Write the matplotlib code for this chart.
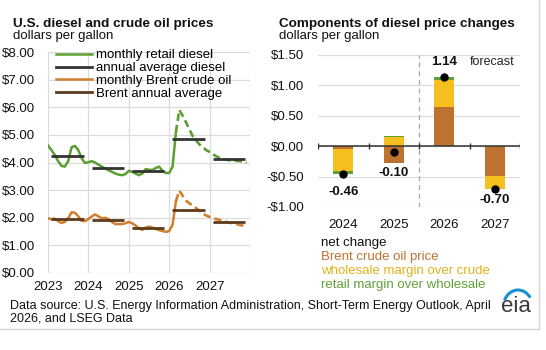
import numpy as np
import matplotlib.pyplot as plt
from matplotlib.lines import Line2D
from matplotlib.patches import Arc

plt.rcParams['font.family'] = ['Liberation Sans', 'DejaVu Sans']

# left panel: monthly prices, Jan 2023 - Dec 2027, dollars per gallon
years = [2023, 2024, 2025, 2026, 2027]
diesel_monthly = [
    4.62, 4.45, 4.28, 4.05, 3.88, 3.85, 4.05, 4.55, 4.60, 4.45, 4.15, 3.98,
    4.01, 4.05, 4.00, 3.92, 3.85, 3.78, 3.72, 3.66, 3.60, 3.56, 3.54, 3.58,
    3.70, 3.66, 3.60, 3.54, 3.60, 3.76, 3.74, 3.73, 3.80, 3.85, 3.70, 3.62,
    3.62, 3.85, 5.10, 5.90, 5.70, 5.45, 5.20, 4.95, 4.80, 4.65, 4.55, 4.45,
    4.38, 4.30, 4.22, 4.17, 4.12, 4.10, 4.08, 4.07, 4.06, 4.05, 4.03, 4.00,
]
brent_monthly = [
    1.98, 1.95, 1.97, 1.88, 1.81, 1.85, 1.98, 2.20, 2.18, 2.05, 1.88, 1.88,
    1.95, 2.05, 2.12, 2.05, 1.98, 2.00, 1.95, 1.85, 1.77, 1.77, 1.77, 1.80,
    1.85, 1.80, 1.72, 1.62, 1.56, 1.64, 1.68, 1.64, 1.60, 1.55, 1.52, 1.49,
    1.52, 1.75, 2.60, 2.98, 2.80, 2.62, 2.52, 2.44, 2.35, 2.25, 2.15, 2.08,
    2.03, 1.98, 1.95, 1.92, 1.88, 1.85, 1.82, 1.80, 1.77, 1.74, 1.71, 1.68,
]
diesel_annual = [4.24, 3.79, 3.68, 4.85, 4.13]
brent_annual = [1.95, 1.91, 1.62, 2.28, 1.83]
last_history = 38  # Mar 2026

# right panel: components of annual diesel price change
change_years = ['2024', '2025', '2026', '2027']
brent_part = [-0.05, -0.27, 0.65, -0.49]
wholesale_part = [-0.36, 0.15, 0.44, -0.22]
retail_part = [-0.05, 0.02, 0.05, 0.01]
net_change = [-0.46, -0.10, 1.14, -0.70]

GREEN = '#5b9e32'
ORANGE = '#cf7f30'
DKBROWN = '#5e3b1c'
BLACK = '#333333'
BAR_BROWN = '#bd7230'
BAR_YELLOW = '#f4bf1f'
BAR_GREEN = '#5fa038'
GRID = '#dcdcdc'
FS = 9.5

fig = plt.figure(figsize=(5.46, 3.5), dpi=100)
W, H = 546, 350


def fx(px):
    return px / W


def fy(py):
    return 1 - py / H


# ---- left chart
ax = fig.add_axes([fx(48), fy(273), fx(250) - fx(48), fy(52) - fy(273)])
x = 2023 + np.arange(len(diesel_monthly)) / 12
dash = (0, (2.8, 1.5))
ax.plot(x[:last_history + 1], diesel_monthly[:last_history + 1], color=GREEN, lw=1.8)
ax.plot(x[last_history:], diesel_monthly[last_history:], color=GREEN, lw=1.9, ls=dash)
ax.plot(x[:last_history + 1], brent_monthly[:last_history + 1], color=ORANGE, lw=1.8)
ax.plot(x[last_history:], brent_monthly[last_history:], color=ORANGE, lw=1.9, ls=dash)
for yr, d, b in zip(years, diesel_annual, brent_annual):
    ax.hlines(d, yr + 0.08, yr + 0.88, color=BLACK, lw=2.0)
    ax.hlines(b, yr + 0.08, yr + 0.88, color=DKBROWN, lw=2.0)

ax.set_xlim(2023, 2028)
ax.set_ylim(0, 8)
ax.set_xticks(years + [2028])
ax.set_xticklabels([str(y) for y in years] + [''])
ax.set_yticks(range(9))
ax.set_yticklabels([f'${v:.2f}' for v in range(9)])
ax.grid(True, color=GRID, lw=0.9)
ax.set_axisbelow(True)
for s in ax.spines.values():
    s.set_visible(False)
ax.tick_params(length=0, labelsize=FS, colors='#111111')
ax.tick_params(axis='y', pad=9)
ax.tick_params(axis='x', pad=6)

handles = [
    Line2D([], [], color=GREEN, lw=1.8),
    Line2D([], [], color=BLACK, lw=2.0),
    Line2D([], [], color=ORANGE, lw=1.8),
    Line2D([], [], color=DKBROWN, lw=2.0),
]
labels = ['monthly retail diesel', 'annual average diesel',
          'monthly Brent crude oil', 'Brent annual average']
leg = fig.legend(handles, labels, loc='upper left', bbox_to_anchor=(fx(56), fy(49)),
                 frameon=False, fontsize=FS, borderpad=0, borderaxespad=0,
                 handlelength=2.7, handletextpad=0.3, labelspacing=0.05)

fig.text(fx(13), fy(26.5), 'U.S. diesel and crude oil prices', fontsize=FS + 0.2,
         fontweight='bold', color='#111111')
fig.text(fx(13), fy(39.5), 'dollars per gallon', fontsize=FS, color='#111111')

# ---- right chart
ax2 = fig.add_axes([fx(318), fy(207), fx(520) - fx(318), fy(55) - fy(207)])
pos = np.arange(len(change_years))
pos_base = np.zeros(len(pos))
neg_base = np.zeros(len(pos))
for vals, col in [(brent_part, BAR_BROWN), (wholesale_part, BAR_YELLOW), (retail_part, BAR_GREEN)]:
    vals = np.array(vals)
    base = np.where(vals >= 0, pos_base, neg_base)
    ax2.bar(pos, vals, 0.4, bottom=base, color=col, zorder=2)
    pos_base = pos_base + np.clip(vals, 0, None)
    neg_base = neg_base + np.clip(vals, None, 0)
ax2.plot(pos, net_change, 'o', color='black', ms=5, zorder=4)

label_offsets = [-0.30, -0.17, 0.24, -0.18]
for i, v in enumerate(net_change):
    edge = pos_base[i] if v > 0 else neg_base[i]
    ax2.text(i, edge + label_offsets[i], f'{v:.2f}', ha='center', va='center',
             fontsize=FS, fontweight='bold', color='#111111')
ax2.text(2.95, 1.385, 'forecast', ha='center', va='center', fontsize=FS - 0.5, color='#222222')

ax2.axhline(0, color=BLACK, lw=1.1, zorder=3)
ax2.vlines(np.arange(len(pos) + 1) - 0.5, -0.045, 0.045, color=BLACK, lw=1.0, zorder=3)
ax2.axvline(1.5, color='#aaaaaa', lw=0.9, ls=(0, (4, 3)), zorder=1)
ax2.set_xlim(-0.5, len(pos) - 0.5)
ax2.set_ylim(-1.0, 1.5)
ax2.set_xticks(pos)
ax2.set_xticklabels(change_years)
yt = [1.5, 1.0, 0.5, 0.0, -0.5, -1.0]
ax2.set_yticks(yt)
ax2.set_yticklabels([('-' if v < 0 else '') + f'${abs(v):.2f}' for v in yt])
ax2.grid(True, axis='y', color=GRID, lw=0.9, zorder=0)
ax2.set_axisbelow(True)
for s in ax2.spines.values():
    s.set_visible(False)
ax2.tick_params(length=0, labelsize=FS, colors='#111111')
ax2.tick_params(axis='y', pad=10)
ax2.tick_params(axis='x', pad=9)

fig.text(fx(279), fy(26.5), 'Components of diesel price changes', fontsize=FS + 0.2,
         fontweight='bold', color='#111111')
fig.text(fx(279), fy(39.5), 'dollars per gallon', fontsize=FS, color='#111111')

legend_items = [('net change', '#111111'), ('Brent crude oil price', BAR_BROWN),
                ('wholesale margin over crude', '#e0b21a'),
                ('retail margin over wholesale', BAR_GREEN)]
for k, (txt, col) in enumerate(legend_items):
    fig.text(fx(321), fy(243 + 14 * k), txt, fontsize=FS, color=col, va='center')

# ---- source note, frame and logo
fig.text(fx(10), fy(308.5),
         'Data source: U.S. Energy Information Administration, Short-Term Energy Outlook, April',
         fontsize=FS - 0.5, color='#111111')
fig.text(fx(10), fy(321.5), '2026, and LSEG Data', fontsize=FS - 0.5, color='#111111')
fig.add_artist(Line2D([0, fx(538.5)], [fy(329), fy(329)], color='#d6d6d6', lw=1.0))
fig.add_artist(Line2D([fx(538.5), fx(538.5)], [fy(329), 1], color='#d6d6d6', lw=1.0))

fig.text(fx(516), fy(306.5), 'eia', fontsize=16, color='#3a3a3a', ha='center', va='center')
logo = fig.add_axes([fx(500), fy(312), fx(534) - fx(500), fy(288) - fy(312)])
logo.set_xlim(0, 34)
logo.set_ylim(0, 24)
logo.axis('off')
logo.add_patch(Arc((18, 4), 30, 36, theta1=40, theta2=150, color='#1a8fd0', lw=2.2))

fig.savefig('out.png', dpi=100)
